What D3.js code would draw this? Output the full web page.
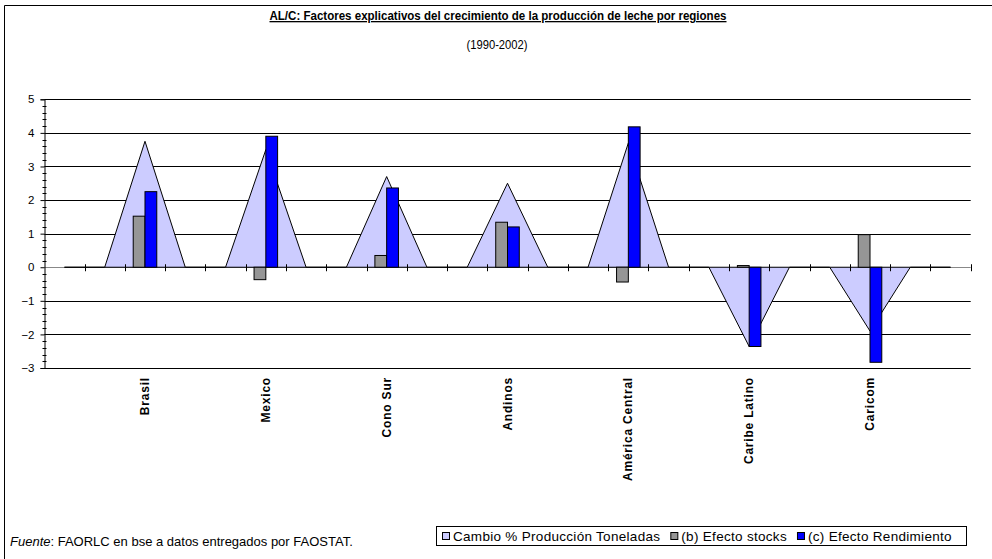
<!DOCTYPE html>
<html>
<head>
<meta charset="utf-8">
<script src="https://cdnjs.cloudflare.com/ajax/libs/d3/7.8.5/d3.min.js"></script>
<style>
  body { margin: 0; background: #fff; }
  svg { font-family: Arial, "Liberation Sans", sans-serif; }
</style>
</head>
<body>
<div id="chart"></div>
<script>
// regions, each one sits in the middle of three category slots
const regions = ["Brasil", "Mexico", "Cono Sur", "Andinos", "América Central", "Caribe Latino", "Caricom"];
const cambioProduccion = [3.75, 3.5, 2.7, 2.5, 3.7, -2.36, -1.9];
const efectoStocks = [1.52, -0.37, 0.35, 1.34, -0.44, 0.05, 0.97];
const efectoRendimiento = [2.25, 3.9, 2.36, 1.2, 4.18, -2.36, -2.83];
const yTicks = [-3, -2, -1, 0, 1, 2, 3, 4, 5];

const seriesNames = ["Cambio % Producción Toneladas", "(b) Efecto stocks", "(c) Efecto Rendimiento"];
const seriesColors = ["#ccccff", "#969696", "#0000ff"];

const nSlots = regions.length * 3 + 2;
const slotOf = (i) => i * 3 + 2;

const width = 992, height = 559;
const plot = { left: 44.3, right: 970.7, top: 99.3, bottom: 368 };

const svg = d3.select("#chart").append("svg")
  .attr("width", width)
  .attr("height", height);

// outer frame (cut at the right and bottom like the screenshot)
svg.append("path")
  .attr("d", `M4.5,${height} V5.5 H${width}`)
  .attr("fill", "none")
  .attr("stroke", "#000");

const x = d3.scaleBand().domain(d3.range(nSlots)).range([plot.left, plot.right]).padding(0);
const xSub = d3.scaleBand().domain(["b", "c"]).range([0, x.bandwidth()]).paddingInner(0).paddingOuter(0.71);
const y = d3.scaleLinear().domain([-3, 5]).range([plot.bottom, plot.top]);

// gridlines
svg.append("g")
  .selectAll("line")
  .data(yTicks.filter((d) => d !== 0))
  .join("line")
  .attr("x1", plot.left).attr("x2", plot.right)
  .attr("y1", (d) => Math.round(y(d)) + 0.5).attr("y2", (d) => Math.round(y(d)) + 0.5)
  .attr("stroke", "#000")
  .attr("stroke-width", 1);

// area series (triangles)
const areaData = d3.range(nSlots).map((s) => {
  const i = regions.findIndex((r, k) => slotOf(k) === s);
  return { slot: s, value: i >= 0 ? cambioProduccion[i] : 0 };
});

const area = d3.area()
  .x((d) => x(d.slot) + x.bandwidth() / 2)
  .y0(y(0))
  .y1((d) => y(d.value));

// x axis line
svg.append("line")
  .attr("x1", plot.left).attr("x2", plot.right)
  .attr("y1", Math.round(y(0)) + 0.5).attr("y2", Math.round(y(0)) + 0.5)
  .attr("stroke", "#888");

svg.append("path")
  .datum(areaData)
  .attr("d", area)
  .attr("fill", seriesColors[0])
  .attr("stroke", "#000")
  .attr("stroke-width", 1);

// columns
const barData = [];
regions.forEach((r, i) => {
  barData.push({ slot: slotOf(i), key: "b", value: efectoStocks[i], color: seriesColors[1] });
  barData.push({ slot: slotOf(i), key: "c", value: efectoRendimiento[i], color: seriesColors[2] });
});

svg.append("g")
  .selectAll("rect")
  .data(barData)
  .join("rect")
  .attr("x", (d) => x(d.slot) + xSub(d.key))
  .attr("width", xSub.bandwidth())
  .attr("y", (d) => Math.min(y(d.value), y(0)))
  .attr("height", (d) => Math.abs(y(d.value) - y(0)))
  .attr("fill", (d) => d.color)
  .attr("stroke", "#000")
  .attr("stroke-width", 1);

// x axis ticks at slot boundaries
const xTickPos = d3.range(nSlots + 1).map((k) => plot.left + k * x.step());
svg.append("g")
  .selectAll("line")
  .data(xTickPos.slice(1))
  .join("line")
  .attr("x1", (d) => Math.round(d) + 0.5).attr("x2", (d) => Math.round(d) + 0.5)
  .attr("y1", y(0) - 3).attr("y2", y(0) + 4)
  .attr("stroke", "#000");

// y axis
const yAxis = d3.axisLeft(y).tickValues(yTicks).tickSize(4).tickPadding(6).tickFormat(d3.format("d"));
const gy = svg.append("g")
  .attr("transform", `translate(${Math.round(plot.left) + 0.5},0)`)
  .call(yAxis);
gy.select(".domain").attr("stroke", "#000");
gy.selectAll(".tick text").attr("font-size", 11.5).attr("fill", "#000").attr("font-family", "Arial, 'Liberation Sans', sans-serif");

// minor ticks
svg.append("g")
  .selectAll("line")
  .data(d3.range(-3, 5.001, 0.2).filter((v) => Math.abs(v - Math.round(v)) > 0.01))
  .join("line")
  .attr("x1", Math.round(plot.left) - 1.5).attr("x2", Math.round(plot.left) + 2.5)
  .attr("y1", (d) => Math.round(y(d)) + 0.5).attr("y2", (d) => Math.round(y(d)) + 0.5)
  .attr("stroke", "#000");

// category labels
svg.append("g")
  .selectAll("text")
  .data(regions)
  .join("text")
  .attr("transform", (d, i) => `translate(${x(slotOf(i)) + x.bandwidth() / 2 + 4},377) rotate(-90)`)
  .attr("text-anchor", "end")
  .attr("font-size", 12)
  .attr("font-weight", "bold")
  .attr("letter-spacing", 0.8)
  .text((d) => d);

// title (narrow rendering in the original, so squeeze it)
svg.append("text")
  .attr("x", 498).attr("y", 20)
  .attr("text-anchor", "middle")
  .attr("font-size", 13)
  .attr("font-weight", "bold")
  .attr("text-decoration", "underline")
  .attr("textLength", 457)
  .attr("lengthAdjust", "spacingAndGlyphs")
  .text("AL/C: Factores explicativos del crecimiento de la producción de leche por regiones");

svg.append("text")
  .attr("x", 497).attr("y", 49)
  .attr("text-anchor", "middle")
  .attr("font-size", 12.5)
  .attr("textLength", 61)
  .attr("lengthAdjust", "spacingAndGlyphs")
  .text("(1990-2002)");

// source note
const note = svg.append("text")
  .attr("x", 10).attr("y", 546)
  .attr("font-size", 13);
note.append("tspan").attr("font-style", "italic").text("Fuente");
note.append("tspan").text(": FAORLC en bse a datos entregados por FAOSTAT.");

// legend
const legend = svg.append("g");
legend.append("rect")
  .attr("x", 436.5).attr("y", 526.5)
  .attr("width", 530).attr("height", 19)
  .attr("fill", "#fff").attr("stroke", "#000");

let lx = 442;
seriesNames.forEach((name, i) => {
  legend.append("rect")
    .attr("x", lx + 0.5).attr("y", 532.5)
    .attr("width", 7).attr("height", 7)
    .attr("fill", seriesColors[i]).attr("stroke", "#000");
  const t = legend.append("text")
    .attr("x", lx + 11).attr("y", 540.5)
    .attr("font-size", 13.5)
    .attr("letter-spacing", 0.3)
    .text(name);
  lx += 11 + t.node().getComputedTextLength() + 10;
});
</script>
</body>
</html>
